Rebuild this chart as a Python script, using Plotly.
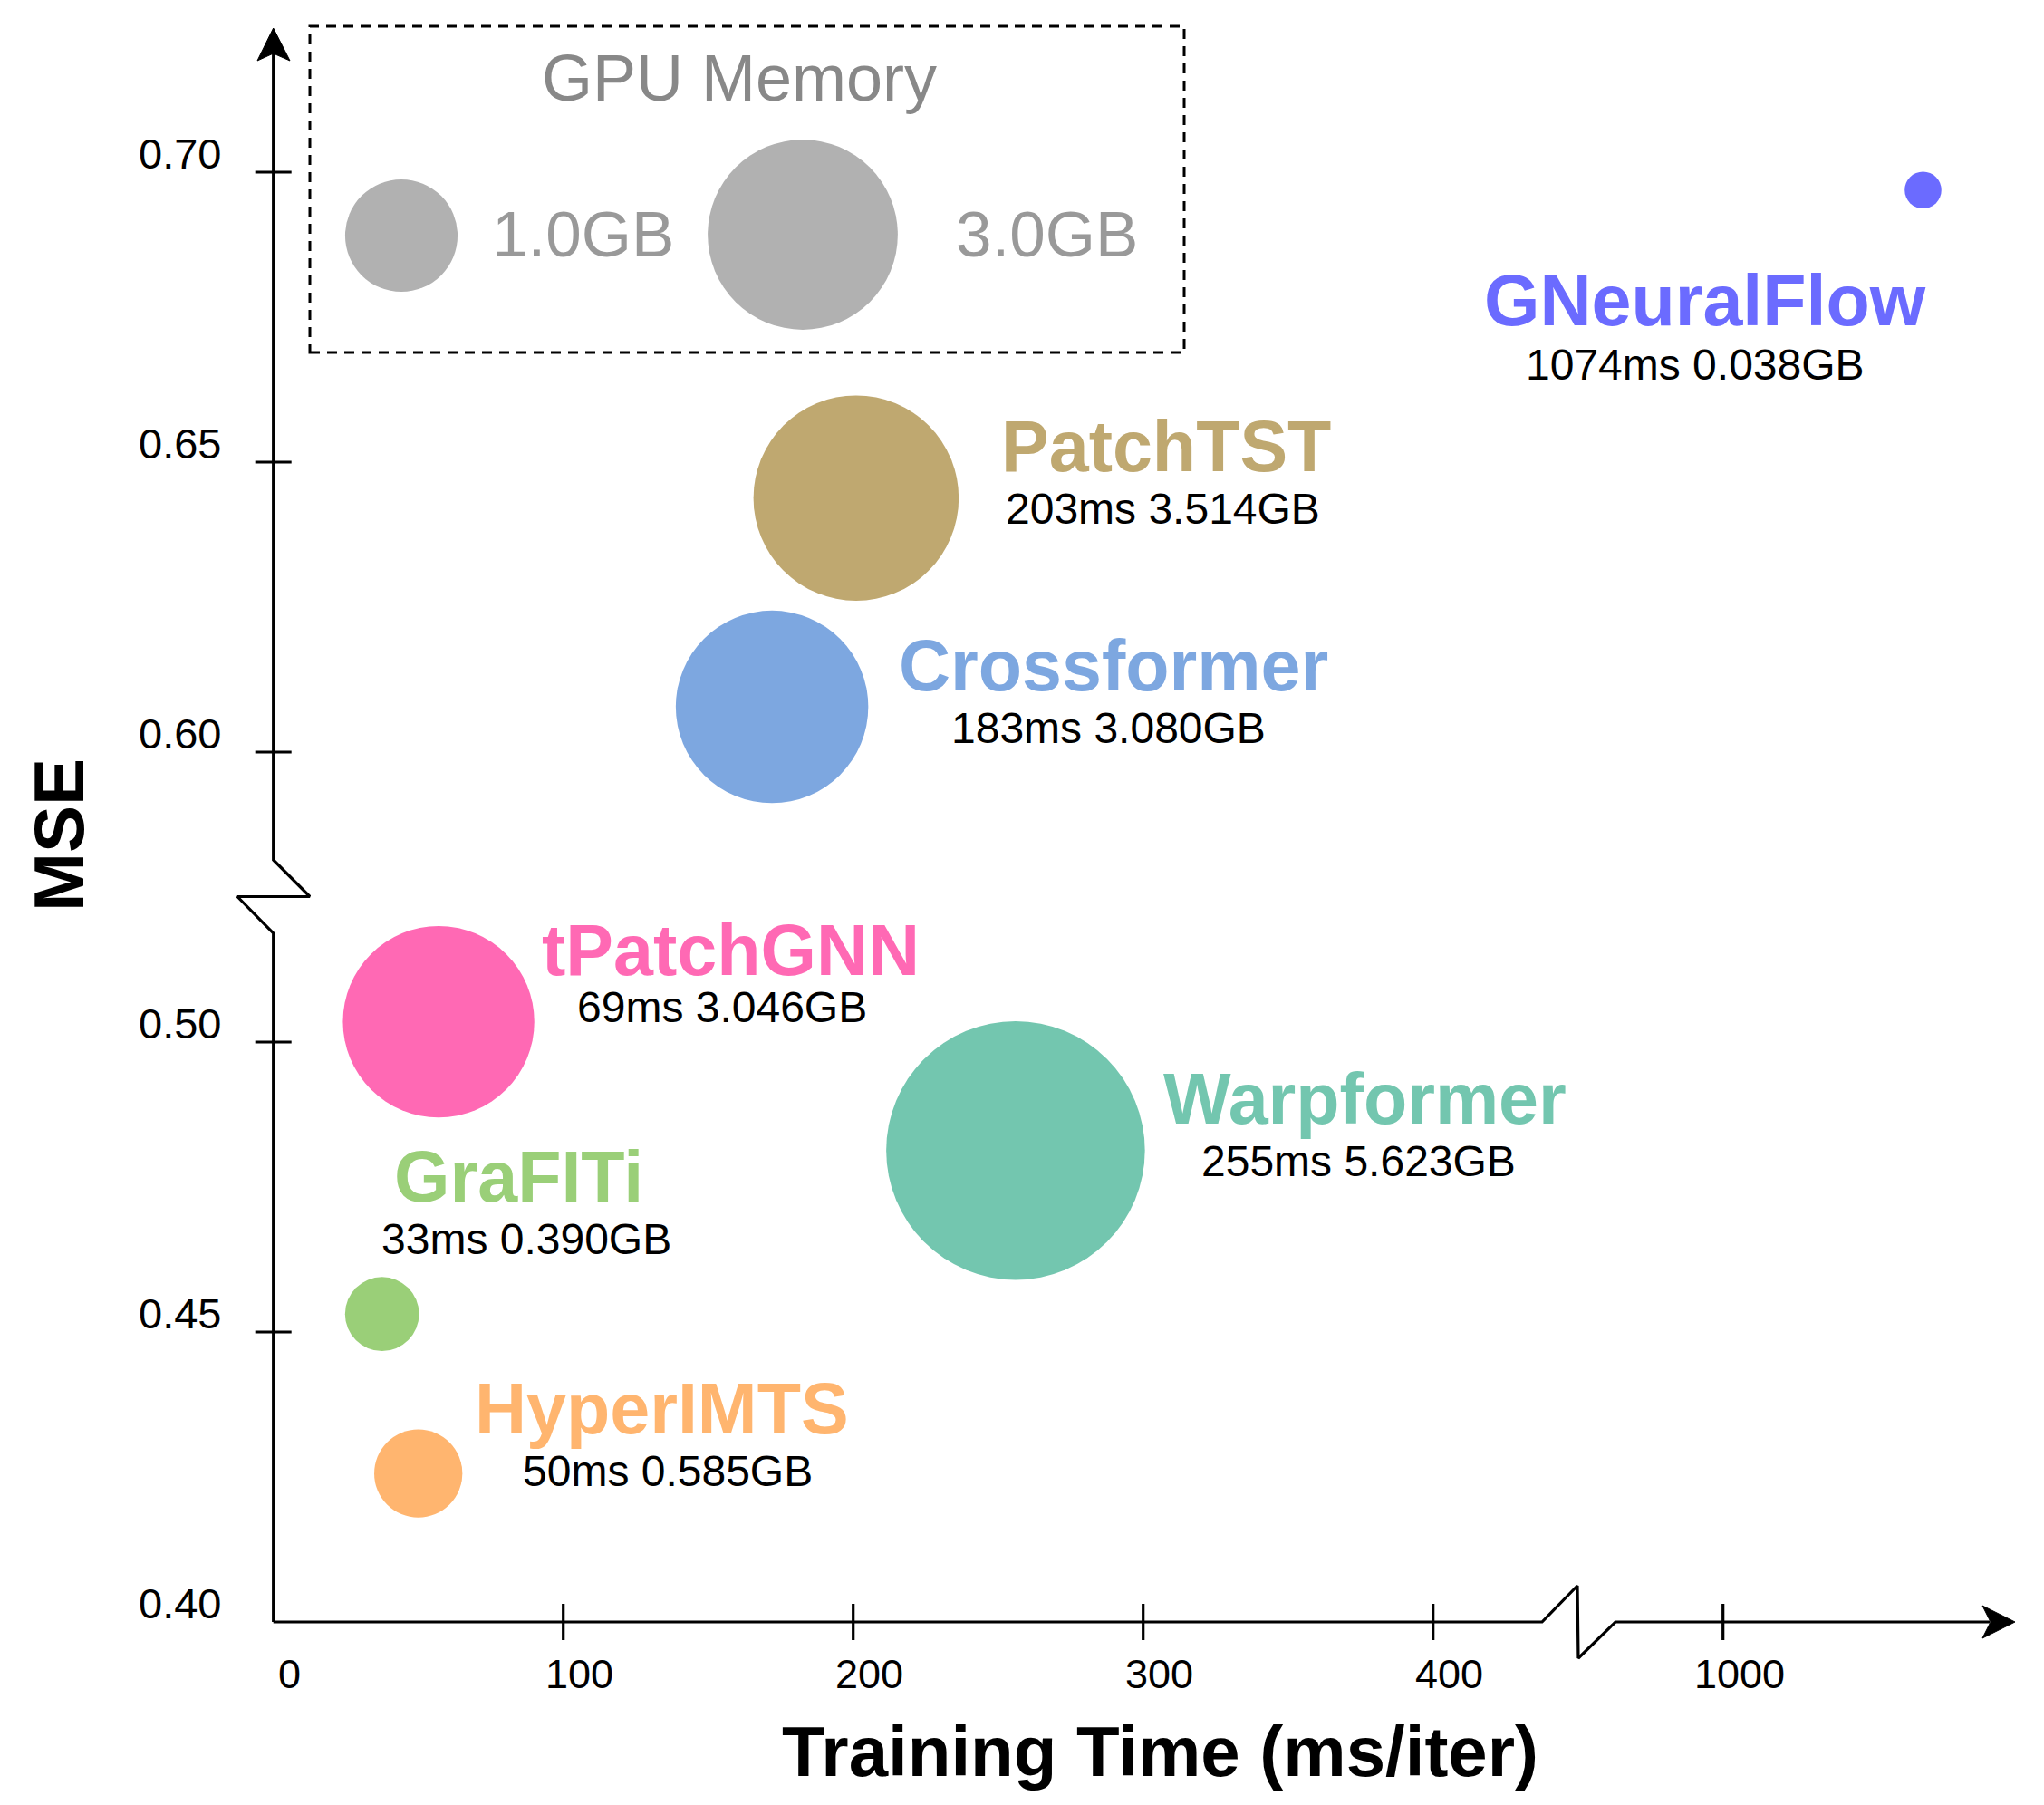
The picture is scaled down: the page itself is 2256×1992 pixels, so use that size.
import math
import plotly.graph_objects as go

# ---------------- data ----------------
models = ["tPatchGNN", "Warpformer", "GraFITi", "HyperIMTS", "Crossformer", "PatchTST", "GNeuralFlow"]
train_time_ms = [69, 255, 33, 50, 183, 203, 1074]          # printed values
time_position_ms = [57, 256, 37.5, 50, 172, 201, 1069]     # where the bubbles sit on the axis
mse = [0.5035, 0.4813, 0.4531, 0.4256, 0.6078, 0.6438, 0.6969]
gpu_mem_gb = [3.046, 5.623, 0.390, 0.585, 3.080, 3.514, 0.038]
colors = ["#ff69b4", "#73c6af", "#9acf78", "#ffb56f", "#7da7e0", "#bfa870", "#6b6bff"]

legend_mem_gb = [1.0, 3.0]
legend_labels = ["1.0GB", "3.0GB"]

x_tick_vals = [0, 100, 200, 300, 400, 1000]
x_tick_text = ["0", "100", "200", "300", "400", "1000"]
y_tick_vals = [0.40, 0.45, 0.50, 0.60, 0.65, 0.70]
y_tick_text = ["0.40", "0.45", "0.50", "0.60", "0.65", "0.70"]

# ---------------- broken-axis transforms ----------------
def fx(t):
    return t if t < 1000 else t - 500


def fy(m):
    return m if m < 0.55 else m - 0.05


def bubble_d(gb):
    return math.sqrt(14300 * gb + 1100)


# pixel helpers for decorations (page pixels; page body has an 8px margin)
PAGE_W, PAGE_H = 2256, 1992
OFF = 8
W, H = PAGE_W - 2 * OFF, PAGE_H - 2 * OFF
X0, SX = 301.7, 3.2
Y0, SY = 1790.0, 6400.0


def px_x(p):
    return (p - X0) / SX


def px_y(p):
    return 0.40 + (Y0 - p) / SY


FONT = "Liberation Sans, Arial, Helvetica, sans-serif"
LW = 3.2

fig = go.Figure()

# ---------------- axes lines with breaks ----------------
xa = [0, 437.6, px_x(1741), px_x(1742), px_x(1783), px_x(2196)]
ya = [0.40, 0.40, px_y(1750), px_y(1830), 0.40, 0.40]
fig.add_trace(go.Scatter(x=xa, y=ya, mode="lines", line=dict(color="black", width=LW),
                         hoverinfo="skip", showlegend=False))
yx = [0, 0, px_x(262), px_x(342), 0, 0]
yy = [0.40, px_y(1030), px_y(989.5), px_y(989.5), px_y(949), px_y(58)]
fig.add_trace(go.Scatter(x=yx, y=yy, mode="lines", line=dict(color="black", width=LW),
                         hoverinfo="skip", showlegend=False))

# arrow heads
fig.add_trace(go.Scatter(
    x=[px_x(2224), px_x(2188), px_x(2197), px_x(2188), px_x(2224)],
    y=[0.40, px_y(1790 - 18), 0.40, px_y(1790 + 18), 0.40],
    fill="toself", fillcolor="black", mode="lines", line=dict(color="black", width=1),
    hoverinfo="skip", showlegend=False))
fig.add_trace(go.Scatter(
    x=[0, px_x(302 - 18), 0, px_x(302 + 18), 0],
    y=[px_y(31), px_y(67), px_y(59), px_y(67), px_y(31)],
    fill="toself", fillcolor="black", mode="lines", line=dict(color="black", width=1),
    hoverinfo="skip", showlegend=False))

# tick marks
tx, ty = [], []
for v in x_tick_vals:
    if v == 0:
        continue
    tx += [fx(v), fx(v), None]
    ty += [px_y(Y0 - 20), px_y(Y0 + 20), None]
for v in y_tick_vals:
    if abs(v - 0.40) < 1e-9:
        continue
    tx += [px_x(X0 - 20), px_x(X0 + 20), None]
    ty += [fy(v), fy(v), None]
fig.add_trace(go.Scatter(x=tx, y=ty, mode="lines", line=dict(color="black", width=LW),
                         hoverinfo="skip", showlegend=False))

annotations = []
for v, t in zip(x_tick_vals, x_tick_text):
    annotations.append(dict(x=fx(v), y=0.40, xref="x", yref="y", text=t, showarrow=False,
                            xshift=18, yshift=-57, xanchor="center", yanchor="middle",
                            font=dict(family=FONT, size=45, color="black")))
for v, t in zip(y_tick_vals, y_tick_text):
    annotations.append(dict(x=0, y=fy(v), xref="x", yref="y", text=t, showarrow=False,
                            xshift=-56, yshift=21, xanchor="right", yanchor="middle",
                            font=dict(family=FONT, size=47, color="black")))

# axis titles
annotations.append(dict(x=px_x(1280), y=px_y(1933), xref="x", yref="y",
                        text="<b>Training Time (ms/iter)</b>", showarrow=False,
                        xanchor="center", yanchor="middle",
                        font=dict(family=FONT, size=78, color="black")))
annotations.append(dict(x=px_x(65), y=px_y(922), xref="x", yref="y",
                        text="<b>MSE</b>", showarrow=False, textangle=-90,
                        xanchor="center", yanchor="middle",
                        font=dict(family=FONT, size=78, color="black")))

# ---------------- bubbles ----------------
bx = [fx(t) for t in time_position_ms]
by = [fy(m) for m in mse]
fig.add_trace(go.Scatter(
    x=bx, y=by, mode="markers",
    marker=dict(size=[bubble_d(g) for g in gpu_mem_gb], color=colors, opacity=1,
                line=dict(width=0)),
    text=models, hoverinfo="text", showlegend=False))

# label offsets (pixels, relative to bubble centre): name dx, name dy, sub dx, sub dy
offsets = {
    "tPatchGNN": (322, -79, 313, -16),
    "Warpformer": (386, -57, 379, 12),
    "GraFITi": (151, -152, 159, -83),
    "HyperIMTS": (269, -72, 275, -3),
    "Crossformer": (377, -46, 371, 23),
    "PatchTST": (342, -57, 339, 12),
    "GNeuralFlow": (-241, 122, -252, 193),
}
for m, t, g, c, x, y in zip(models, train_time_ms, gpu_mem_gb, colors, bx, by):
    ndx, ndy, sdx, sdy = offsets[m]
    annotations.append(dict(x=x, y=y, xref="x", yref="y", text=f"<b>{m}</b>", showarrow=False,
                            xshift=ndx, yshift=-ndy, xanchor="center", yanchor="middle",
                            font=dict(family=FONT, size=79, color=c)))
    annotations.append(dict(x=x, y=y, xref="x", yref="y", text=f"{t}ms {g:.3f}GB", showarrow=False,
                            xshift=sdx, yshift=-sdy, xanchor="center", yanchor="middle",
                            font=dict(family=FONT, size=48, color="black")))

# ---------------- size legend ----------------
fig.add_trace(go.Scatter(
    x=[px_x(443), px_x(886)], y=[px_y(260), px_y(259)], mode="markers",
    marker=dict(size=[bubble_d(g) for g in legend_mem_gb], color="#b1b1b1", opacity=1,
                line=dict(width=0)),
    hoverinfo="skip", showlegend=False))
annotations.append(dict(x=px_x(816), y=px_y(86), xref="x", yref="y", text="GPU Memory",
                        showarrow=False, xanchor="center", yanchor="middle",
                        font=dict(family=FONT, size=72, color="#888888")))
for lab, cx in zip(legend_labels, [643, 1155]):
    annotations.append(dict(x=px_x(cx), y=px_y(258), xref="x", yref="y", text=lab,
                            showarrow=False, xanchor="center", yanchor="middle",
                            font=dict(family=FONT, size=71, color="#999999")))

shapes = [dict(type="rect", xref="x", yref="y", x0=px_x(342), x1=px_x(1307), y0=px_y(389), y1=px_y(29),
               line=dict(color="black", width=3, dash="11px,8px"), fillcolor="rgba(0,0,0,0)", layer="below")]

fig.update_layout(
    width=W, height=H, autosize=False,
    margin=dict(l=0, r=0, t=0, b=0, pad=0),
    paper_bgcolor="white", plot_bgcolor="white",
    xaxis=dict(range=[px_x(OFF), px_x(OFF + W)], visible=False, fixedrange=True),
    yaxis=dict(range=[px_y(OFF + H), px_y(OFF)], visible=False, fixedrange=True),
    annotations=annotations, shapes=shapes, showlegend=False,
)

fig.write_html("out.html")
